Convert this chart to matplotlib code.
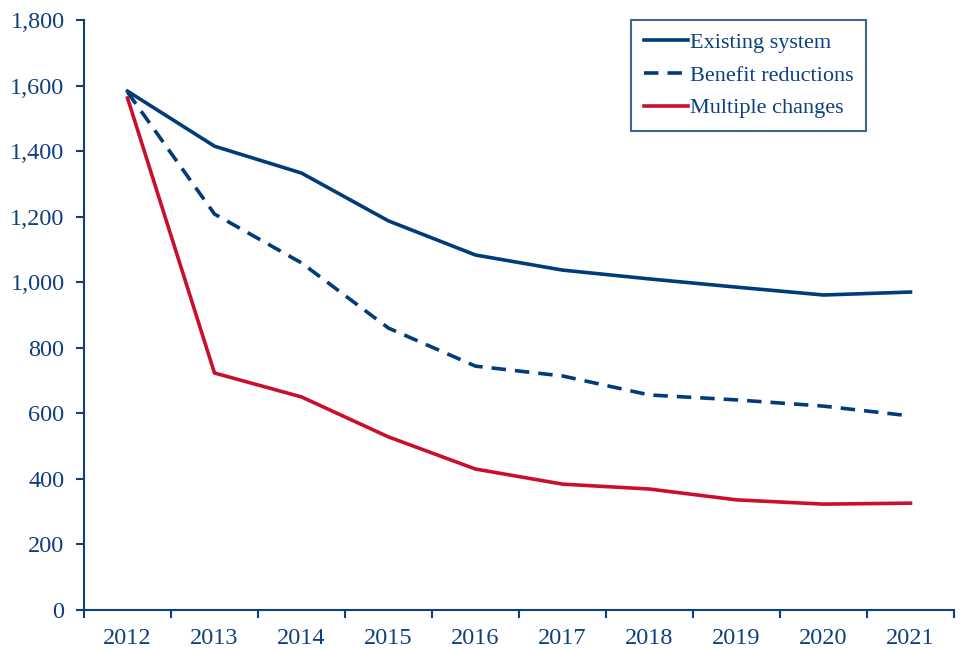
import matplotlib.pyplot as plt
import numpy as np

years = ["2012", "2013", "2014", "2015", "2016", "2017", "2018", "2019", "2020", "2021"]
existing = [1583, 1415, 1333, 1187, 1083, 1037, 1010, 985, 961, 970]
benefit = [1580, 1208, 1059, 860, 744, 714, 656, 641, 622, 592]
multiple = [1562, 723, 650, 528, 430, 384, 369, 336, 323, 326]

NAVY = "#003B7A"
RED = "#C8102E"
AXIS = "#0E3F7F"

plt.rcParams["font.family"] = ["Liberation Serif", "DejaVu Serif"]

fig = plt.figure(figsize=(9.61, 6.49), dpi=100)
ax = fig.add_axes([0.0874, 0.0601, 0.9053, 0.9091])

x = np.arange(len(years))
ax.plot(x, existing, color=NAVY, lw=2.6, label="Existing system")
ax.plot(x, benefit, color=NAVY, lw=2.6, ls=(0, (4, 2.5)), label="Benefit reductions")
ax.plot(x, multiple, color=RED, lw=2.6, label="Multiple changes")

ax.set_xlim(-0.5, len(years) - 0.5)
ax.set_ylim(0, 1800)
ax.set_yticks(range(0, 1801, 200))
ax.set_yticklabels([f"{v:,}" for v in range(0, 1801, 200)])
ax.set_xticks(x)
ax.set_xticklabels(years)
# category axis: tick marks sit between the years
ax.set_xticks(np.arange(-0.5, len(years), 1.0), minor=True)
ax.tick_params(axis="x", which="major", length=0, pad=13)
ax.tick_params(axis="x", which="minor", length=6, width=1.5, color=AXIS, direction="out")
ax.tick_params(axis="y", length=6, width=1.5, color=AXIS, direction="out", pad=8)
ax.tick_params(labelsize=17.5, labelcolor=AXIS)

for side in ("top", "right"):
    ax.spines[side].set_visible(False)
for side in ("left", "bottom"):
    ax.spines[side].set_color(AXIS)
    ax.spines[side].set_linewidth(1.5)

leg = ax.legend(loc="upper right", bbox_to_anchor=(0.899, 1.0), borderaxespad=0,
                fontsize=16, frameon=True, fancybox=False, handlelength=2.0,
                handletextpad=0.1, labelspacing=0.55, borderpad=0.55,
                labelcolor=AXIS)
leg.get_frame().set_edgecolor(AXIS)
leg.get_frame().set_linewidth(1.5)

fig.savefig("out.png", dpi=100)
